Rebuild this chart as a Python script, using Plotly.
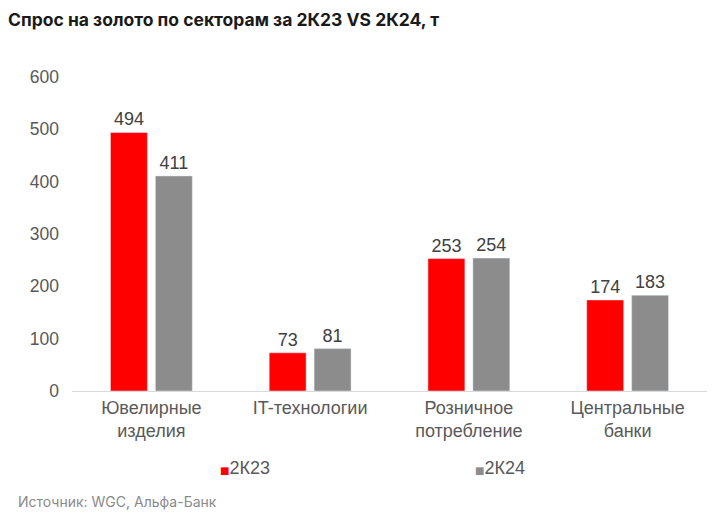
import plotly.graph_objects as go

categories = ["Ювелирные<br>изделия", "IT-технологии", "Розничное<br>потребление", "Центральные<br>банки"]
series_names = ["2К23", "2К24"]
s2k23 = [494, 73, 253, 174]
s2k24 = [411, 81, 254, 183]
yticks = [0, 100, 200, 300, 400, 500, 600]
colors = ["#FF0000", "#8C8C8C"]

fig = go.Figure()
for name, vals, col in zip(series_names, [s2k23, s2k24], colors):
    fig.add_trace(go.Bar(name=name, x=categories, y=vals, marker_color=col,
                         text=vals, textposition="outside",
                         textfont=dict(size=18, color="#404040"), cliponaxis=False,
                         showlegend=False))

legend_x = [0.2303, 0.6313]
annots = []
for name, col, lx in zip(series_names, colors, legend_x):
    annots.append(dict(
        text=f"<span style='font-family:DejaVu Sans;font-size:10px;color:{col}'>■</span>{name}",
        x=lx, xref="paper", y=-0.245, yref="paper", xanchor="left", yanchor="middle",
        showarrow=False, font=dict(family="Liberation Sans, Arial, sans-serif", size=18, color="#595959")))
annots.append(dict(text="Источник: WGC, Альфа-Банк", x=-0.0888, xref="paper",
                   y=-0.3535, yref="paper", xanchor="left", yanchor="middle",
                   showarrow=False,
                   font=dict(family="Inter, Liberation Sans, sans-serif", size=14, color="#8a8a8a")))

fig.update_layout(
    width=710, height=508,
    paper_bgcolor="white", plot_bgcolor="white",
    font=dict(family="Liberation Sans, Arial, sans-serif", size=18, color="#595959"),
    margin=dict(l=63.5, r=10.5, t=69, b=125),
    barmode="group", bargap=0.434, bargroupgap=0.178,
    showlegend=False,
    title=dict(text="<b>Спрос на золото по секторам за 2К23 VS 2К24, т</b>",
               x=0, xref="container", y=0.976, yref="container",
               xanchor="left", yanchor="middle",
               font=dict(family="Inter, Liberation Sans, sans-serif", size=17.5, color="#1a1a1a")),
    annotations=annots,
)
fig.update_yaxes(range=[0, 600], tickvals=yticks, showgrid=False, zeroline=False,
                 showline=False, ticks="", ticklabelstandoff=12,
                 tickfont=dict(size=17.5, color="#595959"))
fig.update_xaxes(showline=True, linecolor="#D9D9D9", linewidth=1, ticks="",
                 tickfont=dict(size=18, color="#595959"))

fig.write_html("out.html")
